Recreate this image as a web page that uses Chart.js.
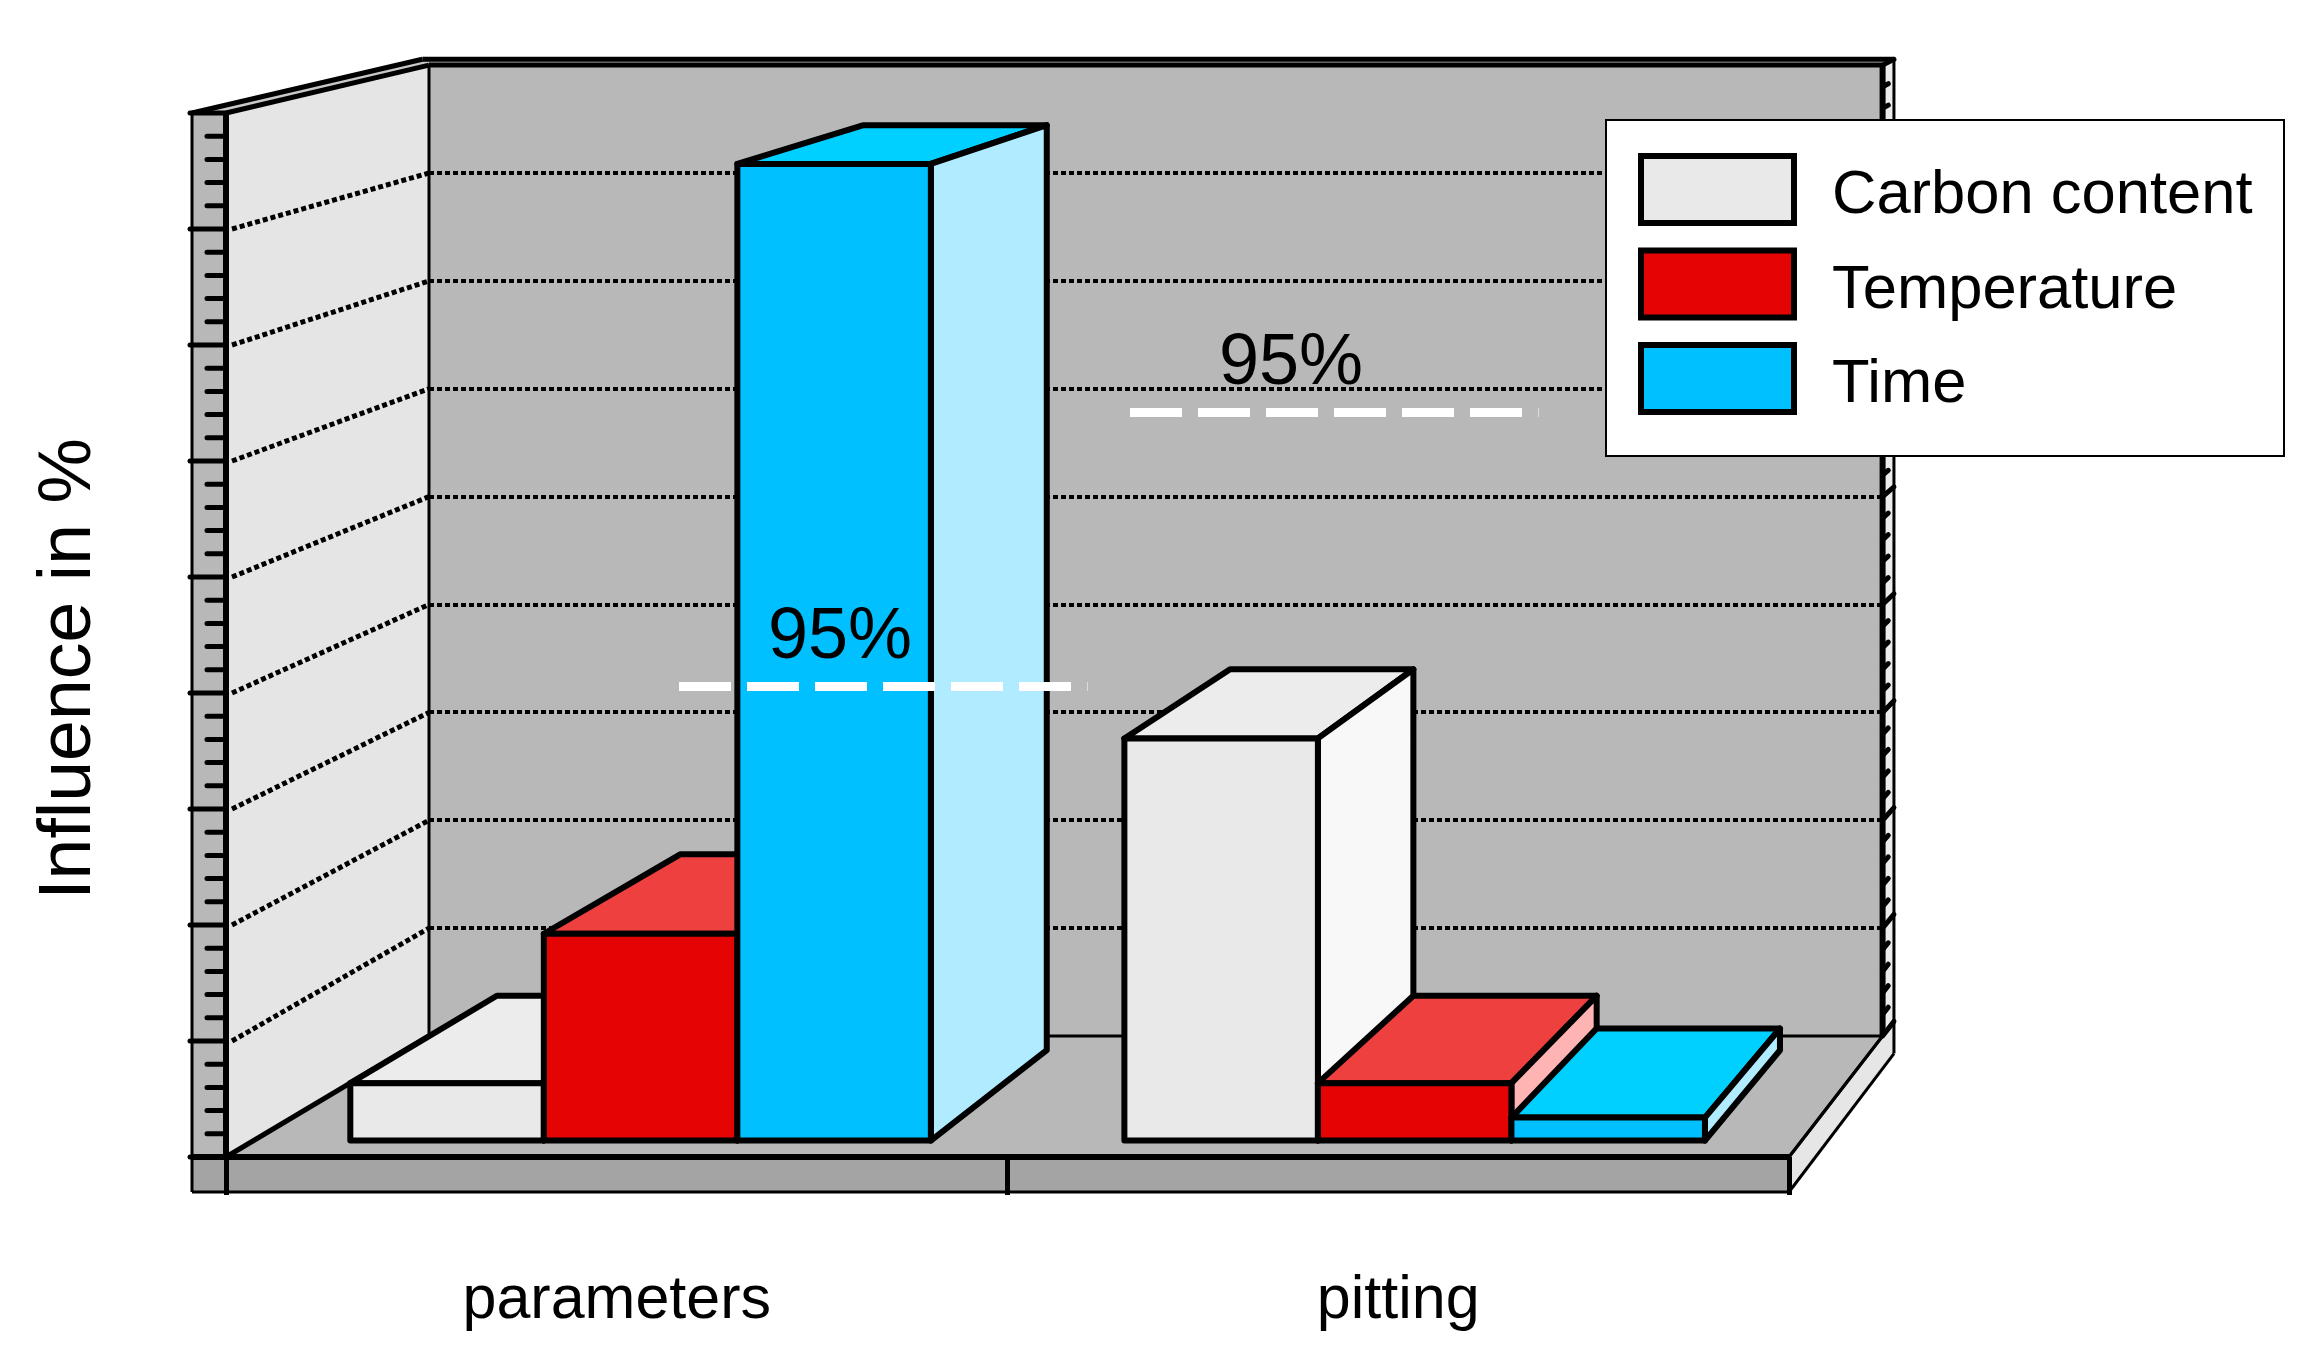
<!DOCTYPE html>
<html>
<head>
<meta charset="utf-8">
<title>Influence in %</title>
<script src="https://cdn.jsdelivr.net/npm/chart.js@4/dist/chart.umd.min.js"></script>
<style>
    html, body { margin: 0; padding: 0; background: #fff; }
    canvas { display: block; }
</style>
</head>
<body>
<canvas id="influenceChart" width="2319" height="1367"></canvas>
<script>
const categories = ['parameters', 'pitting'];
const seriesNames = ['Carbon content', 'Temperature', 'Time'];
const carbonContent = [5, 35];
const temperature = [18, 5];
const time = [85, 2];
const significance95 = [40.6, 64.2];
const significanceLabel = '95%';
const yAxisTitle = 'Influence in %';
const yMax = 90;
const yMajorStep = 10;
const yMinorStep = 2;

const frontColors = ['#e9e9e9', '#e40404', '#00c0ff'];
const topColors = ['#ececec', '#ef4040', '#00d0ff'];
const sideColors = ['#f8f8f8', '#ffb4b4', '#b0ebff'];

const FONT = '"Liberation Sans", Arial, sans-serif';

// the picture is a perspective box, everything shrinks towards this point
const VP = { x: 3126, y: -571 };
const BAR_FRONT = 0.9905;
const BAR_BACK = 0.9382;
const WALL_BACK = 0.93;
const OUTER_BACK = 0.9215;
const WALL_LEFT = 34;
const FLOOR_DROP = 35;

function project(x, y, s) {
    return { x: VP.x + (x - VP.x) * s, y: VP.y + (y - VP.y) * s };
}

function poly(ctx, points, fill, stroke, width) {
    ctx.beginPath();
    points.forEach(function (p, i) {
        if (i === 0) ctx.moveTo(p.x, p.y);
        else ctx.lineTo(p.x, p.y);
    });
    ctx.closePath();
    if (fill) {
        ctx.fillStyle = fill;
        ctx.fill();
    }
    if (stroke) {
        ctx.strokeStyle = stroke;
        ctx.lineWidth = width;
        ctx.stroke();
    }
}

function line(ctx, a, b, width, dash, cap) {
    ctx.save();
    ctx.beginPath();
    ctx.moveTo(a.x, a.y);
    ctx.lineTo(b.x, b.y);
    ctx.strokeStyle = '#000';
    ctx.lineWidth = width;
    ctx.lineCap = cap || 'butt';
    ctx.setLineDash(dash || []);
    ctx.stroke();
    ctx.restore();
}

const boxPlugin = {
    id: 'box3d',
    beforeDraw(chart) {
        const ctx = chart.ctx;
        const area = chart.chartArea;
        const yScale = chart.scales.y;
        const L = area.left, R = area.right, T = area.top, B = area.bottom;
        const outerL = L - WALL_LEFT;

        ctx.save();
        ctx.lineJoin = 'round';
        ctx.fillStyle = '#fff';
        ctx.fillRect(0, 0, chart.width, chart.height);

        // back wall, floor, side wall
        poly(ctx, [project(L, T, WALL_BACK), project(R, T, WALL_BACK), project(R, B, WALL_BACK), project(L, B, WALL_BACK)], '#b8b8b8');
        poly(ctx, [project(L, B, 1), project(L, B, WALL_BACK), project(R, B, WALL_BACK), project(R, B, 1)], '#b8b8b8');
        poly(ctx, [project(L, T, 1), project(L, T, WALL_BACK), project(L, B, WALL_BACK), project(L, B, 1)], '#e5e5e5');

        // wall thickness
        poly(ctx, [project(R, T, WALL_BACK), project(R, T, OUTER_BACK), project(R, B, OUTER_BACK), project(R, B, WALL_BACK)], '#ececec');
        poly(ctx, [project(L, T, WALL_BACK), project(R, T, WALL_BACK), project(R, T, OUTER_BACK), project(outerL, T, OUTER_BACK)], '#c8c8c8');
        poly(ctx, [project(outerL, T, 1), project(L, T, 1), project(L, T, WALL_BACK), project(outerL, T, OUTER_BACK)], '#c8c8c8');
        poly(ctx, [project(outerL, T, 1), project(L, T, 1), project(L, B, 1), project(outerL, B, 1)], '#b8b8b8');

        // floor slab
        poly(ctx, [{ x: outerL, y: B }, { x: R, y: B }, { x: R, y: B + FLOOR_DROP }, { x: outerL, y: B + FLOOR_DROP }], '#a4a4a4');
        poly(ctx, [project(R, B, 1), project(R, B + FLOOR_DROP, 1), project(R, B + FLOOR_DROP, OUTER_BACK), project(R, B, OUTER_BACK)], '#e6e6e6');

        // outlines
        line(ctx, project(L, T, WALL_BACK), project(L, B, WALL_BACK), 3);
        line(ctx, project(L, B, WALL_BACK), project(R, B, WALL_BACK), 3);
        line(ctx, project(L, B, 1), project(L, B, WALL_BACK), 5);
        line(ctx, project(R, B, 1), project(R, B, WALL_BACK), 3);
        line(ctx, project(L, T, WALL_BACK), project(R, T, WALL_BACK), 5);
        line(ctx, project(outerL, T, OUTER_BACK), project(R, T, OUTER_BACK), 5);
        line(ctx, project(L, T, 1), project(L, T, WALL_BACK), 5);
        line(ctx, project(outerL, T, 1), project(outerL, T, OUTER_BACK), 5);
        line(ctx, { x: outerL, y: T }, { x: outerL, y: B + FLOOR_DROP }, 3);
        line(ctx, { x: outerL, y: B + FLOOR_DROP }, { x: R, y: B + FLOOR_DROP }, 3);
        line(ctx, project(R, B + FLOOR_DROP, 1), project(R, B + FLOOR_DROP, OUTER_BACK), 3);
        line(ctx, project(R, B, 1), project(R, B, OUTER_BACK), 3);
        line(ctx, project(R, T, OUTER_BACK), project(R, B + FLOOR_DROP, OUTER_BACK), 3);

        // ticks and dotted grid come from the value scale
        yScale.ticks.forEach(function (tick) {
            const y = yScale.getPixelForValue(tick.value);
            const major = tick.value % yMajorStep === 0;
            if (major) {
                line(ctx, { x: outerL - 2, y: y }, { x: L, y: y }, 5, null, 'round');
                line(ctx, project(R, y, WALL_BACK), project(R, y, OUTER_BACK), 5, null, 'round');
                if (tick.value > 0 && tick.value < yMax) {
                    const backY = Math.round(project(L, y, WALL_BACK).y);
                    line(ctx, project(L + 6, y, 1), project(L, y, WALL_BACK), 5, [5, 3]);
                    line(ctx, { x: project(L, y, WALL_BACK).x, y: backY }, { x: project(R, y, WALL_BACK).x, y: backY }, 4, [5, 3]);
                }
            } else {
                line(ctx, { x: L - 19, y: y }, { x: L, y: y }, 5, null, 'round');
                line(ctx, project(R, y, WALL_BACK), project(R, y, (WALL_BACK + OUTER_BACK) / 2), 5, null, 'round');
            }
        });

        line(ctx, { x: L, y: T }, { x: L, y: B }, 6);
        line(ctx, project(R, T, WALL_BACK), project(R, B, WALL_BACK), 6);
        line(ctx, { x: outerL, y: B }, { x: R, y: B }, 6);
        ctx.restore();
    },
    // bars go left to right so the nearer neighbour covers the side face
    beforeDatasetsDraw(chart) {
        const ctx = chart.ctx;
        const count = chart.data.labels.length;
        for (let c = 0; c < count; c++) {
            chart.data.datasets.forEach(function (dataset, d) {
                const bar = chart.getDatasetMeta(d).data[c];
                const left = bar.x - bar.width / 2;
                const right = bar.x + bar.width / 2;
                const top = bar.y;
                const base = bar.base;

                ctx.save();
                ctx.lineJoin = 'round';
                poly(ctx, [project(left, top, BAR_FRONT), project(right, top, BAR_FRONT), project(right, top, BAR_BACK), project(left, top, BAR_BACK)], topColors[d], '#000', 6);
                poly(ctx, [project(right, top, BAR_FRONT), project(right, top, BAR_BACK), project(right, base, BAR_BACK), project(right, base, BAR_FRONT)], sideColors[d], '#000', 6);

                // front face is the library's own bar element, pushed back onto its plane
                ctx.save();
                ctx.translate(VP.x, VP.y);
                ctx.scale(BAR_FRONT, BAR_FRONT);
                ctx.translate(-VP.x, -VP.y);
                bar.draw(ctx);
                ctx.restore();
                poly(ctx, [project(left, top, BAR_FRONT), project(right, top, BAR_FRONT), project(right, base, BAR_FRONT), project(left, base, BAR_FRONT)], null, '#000', 6);
                ctx.restore();
            });
        }
        return false;
    },
    afterDraw(chart) {
        const ctx = chart.ctx;
        const yScale = chart.scales.y;

        // 95% significance marks
        const markStart = [679, 1130];
        significance95.forEach(function (value, i) {
            const y = Math.round(yScale.getPixelForValue(value)) + 0.5;
            ctx.save();
            ctx.strokeStyle = '#fff';
            ctx.lineWidth = 9;
            ctx.setLineDash([52, 16]);
            ctx.beginPath();
            ctx.moveTo(markStart[i], y);
            ctx.lineTo(markStart[i] + 408.5, y);
            ctx.stroke();
            ctx.fillStyle = '#000';
            ctx.font = '72px ' + FONT;
            ctx.textAlign = 'left';
            ctx.textBaseline = 'alphabetic';
            ctx.fillText(significanceLabel, markStart[i] + 89, y - 29);
            ctx.restore();
        });

        // y axis title
        ctx.save();
        ctx.translate(90, 669);
        ctx.rotate(-Math.PI / 2);
        ctx.fillStyle = '#000';
        ctx.font = '73.5px ' + FONT;
        ctx.textAlign = 'center';
        ctx.textBaseline = 'alphabetic';
        ctx.fillText(yAxisTitle, 0, 0);
        ctx.restore();

        // legend
        ctx.save();
        ctx.fillStyle = '#fff';
        ctx.strokeStyle = '#000';
        ctx.lineWidth = 2;
        ctx.fillRect(1606, 120, 678, 336);
        ctx.strokeRect(1606, 120, 678, 336);
        seriesNames.forEach(function (name, i) {
            const top = 156 + i * 94.5;
            ctx.fillStyle = frontColors[i];
            ctx.strokeStyle = '#000';
            ctx.lineWidth = 6;
            ctx.fillRect(1641, top, 153, 67);
            ctx.strokeRect(1641, top, 153, 67);
            ctx.fillStyle = '#000';
            ctx.font = '61.5px ' + FONT;
            ctx.textAlign = 'left';
            ctx.textBaseline = 'alphabetic';
            ctx.fillText(name, 1832, top + 57);
        });
        ctx.restore();
    }
};

const ctx = document.getElementById('influenceChart').getContext('2d');
const chart = new Chart(ctx, {
    type: 'bar',
    data: {
        labels: categories,
        datasets: [{
            label: seriesNames[0],
            data: carbonContent,
            backgroundColor: frontColors[0],
            borderWidth: 0
        }, {
            label: seriesNames[1],
            data: temperature,
            backgroundColor: frontColors[1],
            borderWidth: 0
        }, {
            label: seriesNames[2],
            data: time,
            backgroundColor: frontColors[2],
            borderWidth: 0
        }]
    },
    options: {
        responsive: false,
        animation: false,
        layout: {
            padding: { left: 226, top: 113, right: 530, bottom: 0 }
        },
        datasets: {
            bar: {
                barPercentage: 1,
                categoryPercentage: 0.75
            }
        },
        plugins: {
            legend: { display: false },
            tooltip: { enabled: false }
        },
        scales: {
            x: {
                afterFit: function (scale) {
                    scale.height = 210;
                },
                border: { display: false },
                grid: {
                    drawOnChartArea: false,
                    drawTicks: true,
                    tickLength: 38,
                    tickWidth: 5,
                    tickColor: '#000'
                },
                ticks: {
                    color: '#000',
                    padding: 70,
                    maxRotation: 0,
                    font: { family: FONT, size: 61 }
                }
            },
            y: {
                display: false,
                min: 0,
                max: yMax,
                ticks: { stepSize: yMinorStep }
            }
        }
    },
    plugins: [boxPlugin]
});
</script>
</body>
</html>
